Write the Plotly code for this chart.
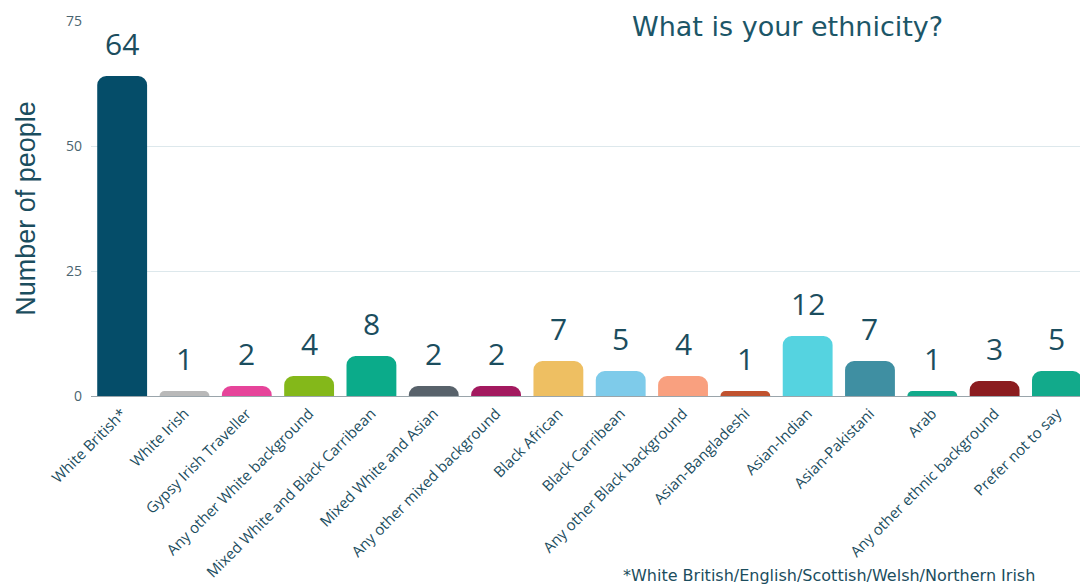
import plotly.graph_objects as go

categories = [
    "White British*", "White Irish", "Gypsy Irish Traveller", "Any other White background",
    "Mixed White and Black Carribean", "Mixed White and Asian", "Any other mixed background",
    "Black African", "Black Carribean", "Any other Black background", "Asian-Bangladeshi",
    "Asian-Indian", "Asian-Pakistani", "Arab", "Any other ethnic background", "Prefer not to say",
]
counts = [64, 1, 2, 4, 8, 2, 2, 7, 5, 4, 1, 12, 7, 1, 3, 5]
bar_colors = [
    "#054d69", "#b9b9b9", "#e6449a", "#84b81a", "#0bab8a", "#58626b", "#a3195f",
    "#eebf62", "#7ecbea", "#f9a07f", "#c0522f", "#55d3e0", "#3f8fa2", "#12aa8b",
    "#8b1c1f", "#12aa8b",
]
y_ticks = [0, 25, 50, 75]

TEXT = "#1b4d5e"
FONT = "'Open Sans', Lato, sans-serif"
WIDE = "'DejaVu Sans', Verdana, sans-serif"

fig = go.Figure(
    go.Bar(
        x=categories,
        y=counts,
        marker=dict(color=bar_colors, line=dict(width=0)),
        hoverinfo="x+y",
    )
)

# value labels sitting above each bar
for cat, val in zip(categories, counts):
    fig.add_annotation(
        x=cat, y=val, text=str(val), showarrow=False,
        yanchor="bottom", yshift=10,
        font=dict(family=FONT, size=30, color=TEXT),
    )

fig.add_annotation(
    xref="paper", yref="paper", x=0.545, y=1.0, xanchor="left", yanchor="middle",
    yshift=-5, text="What is your ethnicity?", showarrow=False, bgcolor="white",
    font=dict(family=WIDE, size=27, color="#1c5668"),
)
fig.add_annotation(
    xref="paper", yref="paper", x=0.536, y=-0.448, xanchor="left", yanchor="top",
    text="*White British/English/Scottish/Welsh/Northern Irish", showarrow=False,
    font=dict(family=WIDE, size=16, color=TEXT),
)

fig.update_layout(
    width=1080, height=588,
    margin=dict(l=91, r=0, t=21, b=192),
    paper_bgcolor="white", plot_bgcolor="white",
    bargap=0.2,
    barcornerradius=9,
    showlegend=False,
    xaxis=dict(
        range=[-0.5, 15.37],
        tickangle=-45,
        tickfont=dict(family=FONT, size=15, color=TEXT),
        showgrid=False, showline=True, linecolor="#9aa5ab", linewidth=1,
        ticks="", ticklabelstandoff=2,
    ),
    yaxis=dict(
        range=[0, 75],
        tickvals=y_ticks,
        tickfont=dict(family=FONT, size=14, color="#4b6470"),
        gridcolor="#dde8ec", gridwidth=1,
        zeroline=False, showline=False, ticks="",
        ticklabelstandoff=8,
        title=dict(text="Number of people",
                   font=dict(family="'Liberation Sans', Arial, sans-serif", size=27, color=TEXT),
                   standoff=22),
    ),
)

fig.write_html("out.html")
